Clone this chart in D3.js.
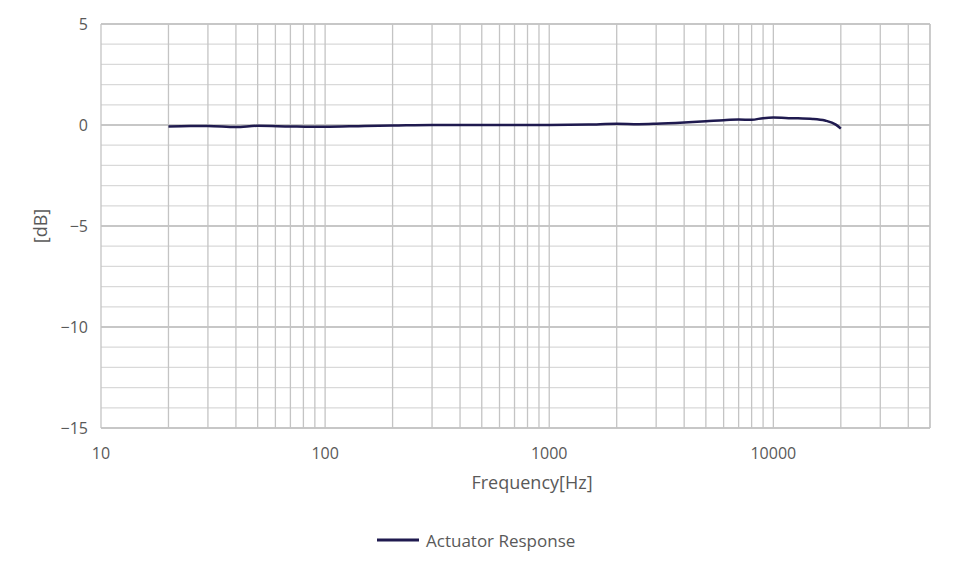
<!DOCTYPE html>
<html><head><meta charset="utf-8">
<script src="https://cdn.jsdelivr.net/npm/d3@7"></script>
<style>body{margin:0;background:#fff}</style>
</head><body>
<script>
// frequency response samples
const freqs = [20, 25, 30, 40, 50, 70, 100, 150, 200, 300, 500, 700, 1000, 1500, 2000, 2500, 3000, 4000, 5000, 6000, 7000, 8000, 9000, 10000, 12000, 15000, 17000, 19000, 20000];
const dB    = [-0.08, -0.05, -0.05, -0.1, -0.04, -0.07, -0.09, -0.05, -0.03, 0, 0, 0, 0, 0.02, 0.06, 0.04, 0.06, 0.12, 0.18, 0.24, 0.27, 0.26, 0.34, 0.37, 0.34, 0.3, 0.22, 0.02, -0.18];
const xTicks = [10, 100, 1000, 10000];
const yTicks = [5, 0, -5, -10, -15];

const W = 970, H = 571;
const svg = d3.select("body").append("svg").attr("width", W).attr("height", H);
const x = d3.scaleLog().domain([10, 50000]).range([101, 930]);
const y = d3.scaleLinear().domain([-15, 5]).range([428, 24]);

const g = svg.append("g");
// horizontal grid every 1 dB
d3.range(-15, 6).forEach(v => {
  g.append("line").attr("x1", 101).attr("x2", 930).attr("y1", y(v)).attr("y2", y(v))
   .attr("stroke", v % 5 === 0 ? "#b4b4b4" : "#d9d9d9").attr("stroke-width", 1.3);
});
// vertical log grid
const vg = [];
for (let d = 10; d <= 10000; d *= 10) for (let k = 1; k <= 9; k++) if (d * k <= 50000) vg.push(d * k);
vg.push(50000);
vg.forEach(v => {
  g.append("line").attr("x1", x(v)).attr("x2", x(v)).attr("y1", 24).attr("y2", 428)
   .attr("stroke", "#c4c4c4").attr("stroke-width", 1.3);
});

const font = "'Open Sans', sans-serif";
svg.selectAll(".yt").data(yTicks).join("text")
  .attr("x", 88).attr("y", d => y(d) + 6).attr("text-anchor", "end")
  .attr("font-family", font).attr("font-size", 16).attr("fill", "#595959")
  .text(d => d < 0 ? "\u2212" + Math.abs(d) : d);
svg.selectAll(".xt").data(xTicks).join("text")
  .attr("x", d => x(d)).attr("y", 459).attr("text-anchor", "middle")
  .attr("font-family", font).attr("font-size", 16).attr("fill", "#595959")
  .text(d => d);

svg.append("text").attr("x", 532).attr("y", 489).attr("text-anchor", "middle")
  .attr("font-family", font).attr("font-size", 18).attr("fill", "#595959").text("Frequency[Hz]");
svg.append("text").attr("transform", "translate(47,226) rotate(-90)").attr("text-anchor", "middle")
  .attr("font-family", font).attr("font-size", 18).attr("fill", "#595959").text("[dB]");

const line = d3.line().x((d, i) => x(freqs[i])).y(d => y(d)).curve(d3.curveMonotoneX);
svg.append("path").datum(dB).attr("d", line).attr("fill", "none")
  .attr("stroke", "#1f1a4f").attr("stroke-width", 2.5);

// legend
svg.append("line").attr("x1", 377).attr("x2", 419).attr("y1", 540).attr("y2", 540)
  .attr("stroke", "#1f1a4f").attr("stroke-width", 3);
svg.append("text").attr("x", 426).attr("y", 547).attr("font-family", font)
  .attr("font-size", 17).attr("fill", "#595959").text("Actuator Response");
</script>
</body></html>
